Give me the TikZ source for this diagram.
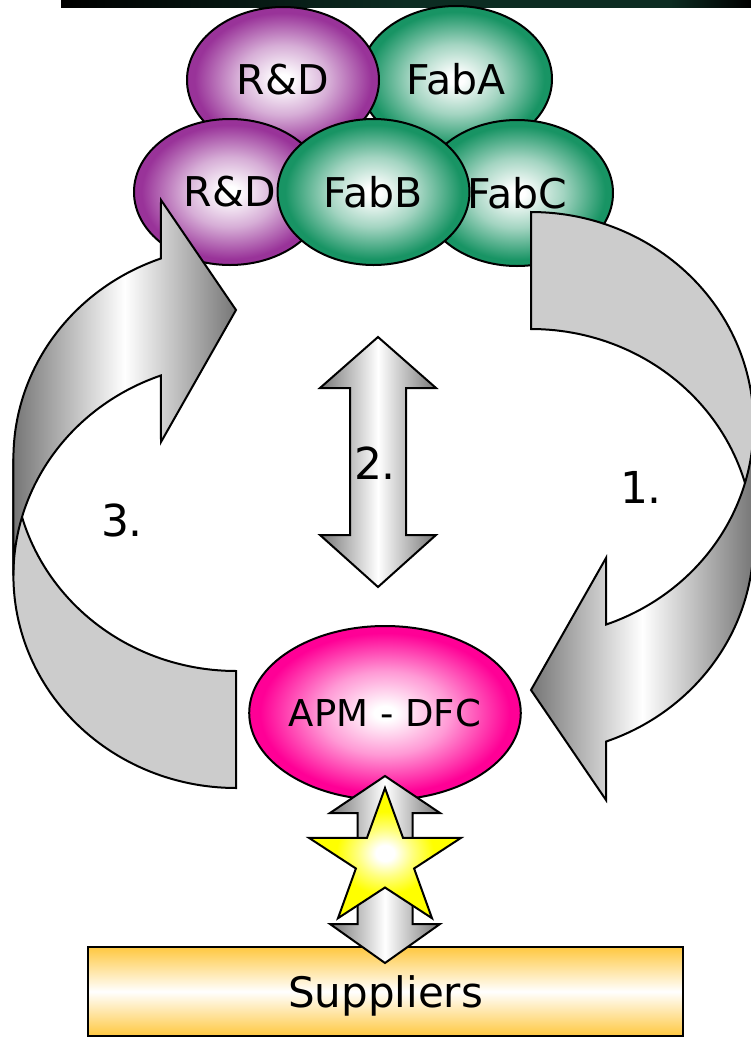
\documentclass[tikz,border=0pt]{standalone}
\usepackage{fontspec}
\setmainfont{DejaVu Sans}
\usetikzlibrary{shapes.geometric}

\definecolor{rdpurple}{RGB}{153,51,153}
\definecolor{fabgreen}{RGB}{24,148,100}
\definecolor{apmpink}{RGB}{255,0,150}
\definecolor{staryellow}{RGB}{255,255,0}
\definecolor{supplyorange}{RGB}{255,200,64}
\definecolor{bandgray}{RGB}{204,204,204}
\definecolor{edgegray}{RGB}{118,118,118}
\definecolor{bargreen}{RGB}{12,44,34}

% the path's bounding box covers the inner 25bp radius of each shading
\pgfdeclareradialshading{ballpurple}{\pgfpoint{0bp}{0bp}}{color(0bp)=(white); color(2bp)=(white); color(12bp)=(rdpurple!40); color(23bp)=(rdpurple); color(25bp)=(rdpurple); color(50bp)=(rdpurple)}
\pgfdeclareradialshading{ballgreen}{\pgfpoint{0bp}{0bp}}{color(0bp)=(white); color(2bp)=(white); color(12bp)=(fabgreen!40); color(23bp)=(fabgreen); color(25bp)=(fabgreen); color(50bp)=(fabgreen)}
\pgfdeclareradialshading{ballpink}{\pgfpoint{0bp}{0bp}}{color(0bp)=(white); color(2bp)=(white); color(12bp)=(apmpink!40); color(23bp)=(apmpink); color(25bp)=(apmpink); color(50bp)=(apmpink)}
\pgfdeclareradialshading{ballyellow}{\pgfpoint{0bp}{0bp}}{color(0bp)=(white); color(3bp)=(white); color(9bp)=(staryellow!50); color(16bp)=(staryellow); color(25bp)=(staryellow); color(50bp)=(staryellow)}
\pgfdeclarehorizontalshading{topbar}{100bp}{color(0bp)=(black); color(25bp)=(black); color(50bp)=(bargreen); color(69bp)=(bargreen); color(75bp)=(black); color(100bp)=(black)}

% twisted curved band arrow, local origin at the upper corner of its tail
\newcommand{\twistarrow}{%
  \path[outline, fill=bandgray]
    (0,0) -- plot[domain=-90:0, samples=60, variable=\t] ({222.6*cos(\t)}, {212.5+212.5*sin(\t)})
    -- plot[domain=0:-90, samples=60, variable=\t] ({222.6*cos(\t)}, {329.5+212.5*sin(\t)}) -- cycle;
  \path[outline, left color=edgegray, right color=edgegray, middle color=white]
    (222.6,212.5) -- plot[domain=0:70.3, samples=60, variable=\t] ({222.6*cos(\t)}, {212.5+212.5*sin(\t)})
    -- (75,346) -- (0,478) -- (75,588)
    -- plot[domain=70.3:0, samples=60, variable=\t] ({222.6*cos(\t)}, {329.5+212.5*sin(\t)}) -- cycle;
}

\begin{document}
\begin{tikzpicture}[x=1pt, y=-1pt,
  outline/.style={draw=black, line width=2pt},
  ball/.style={ellipse, outline, shade, minimum width=192pt, minimum height=146pt, inner sep=0pt,
    font=\fontsize{41}{41}\selectfont},
  numlabel/.style={font=\fontsize{44}{44}\selectfont, inner sep=0pt},
  blockarrow/.style={outline, left color=edgegray, right color=edgegray, middle color=white}]
\useasboundingbox (0,0) rectangle (751,1037);

% header rule
\shade[shading=topbar] (61,0) rectangle (751,7);

% organisation cluster
\node[ball, shading=ballgreen] (fabA) at (456,79) {FabA};
\node[ball, shading=ballpurple] (rdA) at (283,80) {R\&D};
\node[ball, shading=ballpurple] (rdB) at (230,192) {R\&D};
\node[ball, shading=ballgreen] (fabC) at (517,193) {FabC};
\node[ball, shading=ballgreen] (fabB) at (373.5,192) {FabB};

% curved arrows 1 (right) and 3 (left)
\begin{scope}[shift={(531,212)}]
  \twistarrow
\end{scope}
\begin{scope}[shift={(236,788)}, rotate=180]
  \twistarrow
\end{scope}

% double arrow 2
\path[blockarrow] (378,337) -- (436,388) -- (406,388) -- (406,535) -- (436,535) -- (378,587)
  -- (320,535) -- (350,535) -- (350,388) -- (320,388) -- cycle;

% APM - DFC and suppliers
\node[ellipse, outline, shade, shading=ballpink, minimum width=256pt, minimum height=174pt,
  inner sep=0pt, font=\fontsize{37}{37}\selectfont] (apm) at (385,713) {APM - DFC};
\node[rectangle, outline, top color=supplyorange, bottom color=supplyorange, middle color=white,
  minimum width=595pt, minimum height=89pt, inner sep=0pt, text depth=0pt,
  font=\fontsize{42}{42}\selectfont] (sup) at (385.5,991.5) {Suppliers};

% link between APM - DFC and suppliers
\path[blockarrow] (385,776) -- (440,813) -- (412.5,813) -- (412.5,924) -- (440,924) -- (385,963)
  -- (330,924) -- (357.5,924) -- (357.5,813) -- (330,813) -- cycle;
\path[outline, shade, shading=ballyellow] (385,788) -- (403,837.8) -- (461.1,837.8) -- (414.1,868.5)
  -- (432,918.2) -- (385,887.5) -- (338,918.2) -- (355.9,868.5) -- (308.9,837.8) -- (367,837.8) -- cycle;

% step numbers
\node[numlabel] (n1) at (641,487) {1.};
\node[numlabel] (n2) at (375,463) {2.};
\node[numlabel] (n3) at (122,520) {3.};
\end{tikzpicture}
\end{document}
